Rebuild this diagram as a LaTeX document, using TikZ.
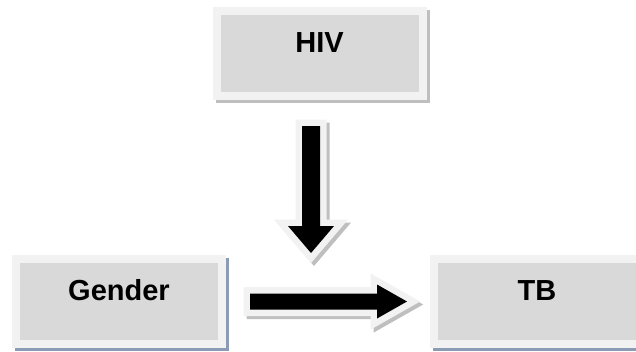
\documentclass[tikz,border=0pt]{standalone}
\usepackage{fontspec}
\setmainfont{Liberation Sans}
\usepackage{tikz}
\usetikzlibrary{positioning, calc}
\definecolor{boxgrey}{RGB}{217, 217, 217}
\definecolor{rimgrey}{RGB}{242, 242, 242}
\definecolor{shadegrey}{RGB}{191, 191, 191}
\definecolor{slateshade}{RGB}{140, 156, 180}

\begin{document}
\begin{tikzpicture}[
    x=1pt, y=-1pt,
    box/.style={rectangle, fill=boxgrey, draw=rimgrey, line width=8pt, minimum width=206pt, minimum height=85pt, inner sep=0pt, outer sep=0pt, text height=21pt, text depth=24pt, font=\fontsize{29}{30}\selectfont\bfseries},
    boxshadow/.style={preaction={draw=#1, fill=#1, transform canvas={shift={(3pt,-3pt)}}}},
    arrowshadow/.style={fill=shadegrey, draw=shadegrey, line width=13pt, line join=miter},
    arrowrim/.style={draw=rimgrey, line width=13pt, line join=miter},
    arrowbody/.style={fill=black},
    downblock/.pic={
        \foreach \d/\layer in {3/arrowshadow, 0/arrowrim, 0/arrowbody}
            \path[\layer, shift={(\d,\d)}] (-9,0) -- (9,0) -- (9,100) -- (23,100) -- (0,127) -- (-23,100) -- (-9,100) -- cycle;
    },
    rightblock/.pic={
        \foreach \d/\layer in {3/arrowshadow, 0/arrowrim, 0/arrowbody}
            \path[\layer, shift={(\d,\d)}] (0,-8) -- (127,-8) -- (127,-17) -- (157,0) -- (127,17) -- (127,8) -- (0,8) -- cycle;
    }
]
\clip (0,0) rectangle (636,351);

% Factors and outcome
\node[box, boxshadow=shadegrey] (hiv) at (319.5,53.5) {HIV};
\node[box, boxshadow=slateshade] (gender) at (119,301.5) {Gender};
\node[box, boxshadow=slateshade] (tb) at (537,301.5) {TB};

% Arrow anchors
\coordinate (dtop) at ($(hiv.south)+(-8.5,30)$);
\coordinate (rstart) at ($(gender.east)+(28,0)$);

% HIV acting on the link
\pic at (dtop) {downblock};

% Gender to TB
\pic at (rstart) {rightblock};
\end{tikzpicture}
\end{document}
